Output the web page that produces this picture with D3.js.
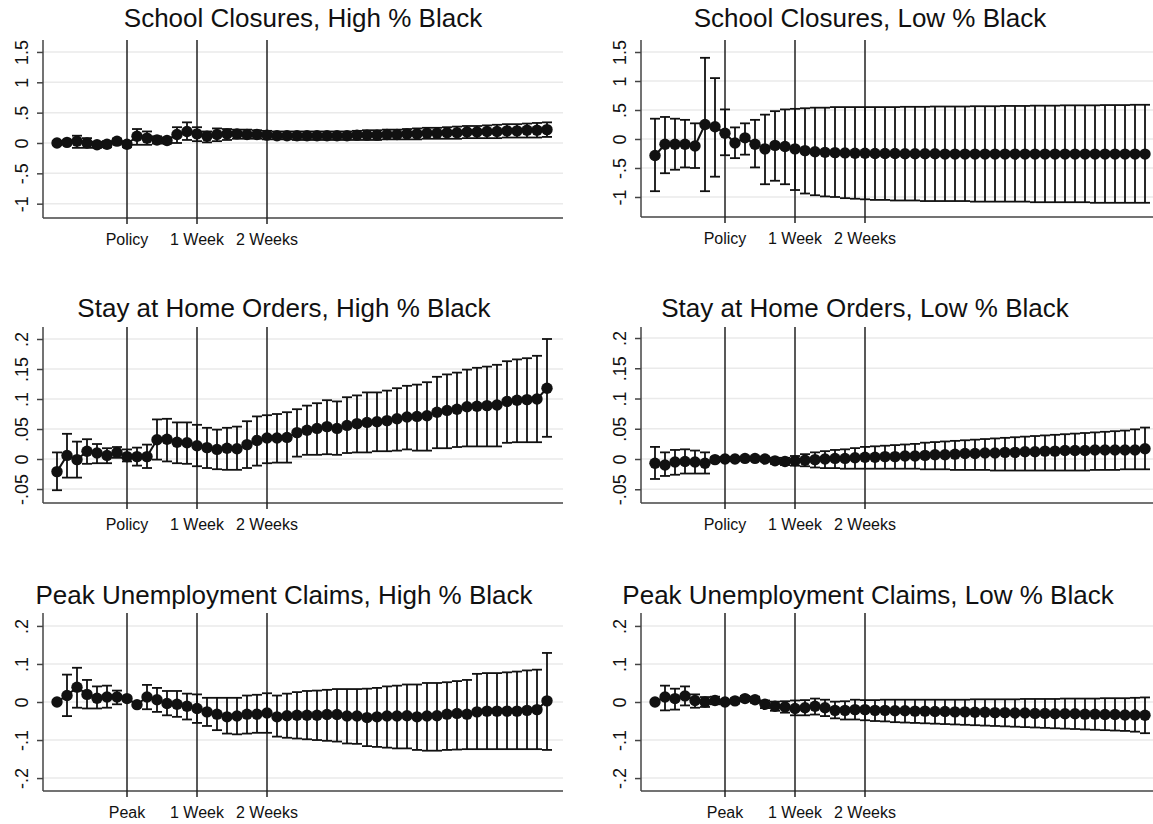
<!DOCTYPE html>
<html>
<head>
<meta charset="utf-8">
<script src="https://cdn.jsdelivr.net/npm/d3@7"></script>
<style>
  body { margin: 0; background: #fff; }
  svg { display: block; }
  text { font-family: "Liberation Sans", Arial, sans-serif; fill: #111; }
</style>
</head>
<body>
<svg id="chart" width="1153" height="824"></svg>
<script>
// Days relative to the event (policy start or claims peak)
const days = [-7,-6,-5,-4,-3,-2,-1,0,1,2,3,4,5,6,7,8,9,10,11,12,13,14,15,16,17,18,19,20,21,22,23,24,25,26,27,28,29,30,31,32,33,34,35,36,37,38,39,40,41,42];

// Marked event days on the x axis
const eventDays = [0, 7, 14];
const policyLabels = ["Policy", "1 Week", "2 Weeks"];
const peakLabels = ["Peak", "1 Week", "2 Weeks"];

// Y axis ticks
const schoolTicks = [-1, -0.5, 0, 0.5, 1, 1.5];
const schoolTickLabels = ["-1", "-.5", "0", ".5", "1", "1.5"];
const stayTicks = [-0.05, 0, 0.05, 0.1, 0.15, 0.2];
const stayTickLabels = ["-.05", "0", ".05", ".1", ".15", ".2"];
const claimsTicks = [-0.2, -0.1, 0, 0.1, 0.2];
const claimsTickLabels = ["-.2", "-.1", "0", ".1", ".2"];

// School closures, high % Black
const schoolHighEst = [0,0.01,0.03,0,-0.03,-0.02,0.03,-0.02,0.11,0.08,0.05,0.04,0.14,0.19,0.15,0.11,0.14,0.15,0.15,0.14,0.14,0.13,0.12,0.12,0.12,0.12,0.12,0.12,0.12,0.12,0.13,0.13,0.13,0.14,0.14,0.15,0.15,0.16,0.16,0.17,0.17,0.18,0.18,0.19,0.19,0.2,0.2,0.21,0.21,0.22];
const schoolHighLo = [-0.03,-0.02,-0.08,-0.08,-0.08,-0.07,-0.01,-0.07,-0.03,-0.03,-0.01,-0.01,0,0.05,0.03,0.01,0.03,0.05,0.07,0.07,0.07,0.06,0.06,0.06,0.05,0.05,0.05,0.05,0.05,0.05,0.05,0.05,0.05,0.06,0.06,0.06,0.06,0.07,0.07,0.07,0.07,0.08,0.08,0.08,0.08,0.09,0.09,0.09,0.09,0.1];
const schoolHighHi = [0.03,0.04,0.12,0.08,0.02,0.03,0.07,0.03,0.23,0.19,0.11,0.09,0.26,0.34,0.26,0.19,0.24,0.23,0.22,0.22,0.21,0.2,0.19,0.19,0.19,0.19,0.19,0.19,0.19,0.19,0.2,0.21,0.21,0.22,0.22,0.23,0.24,0.25,0.25,0.26,0.27,0.28,0.28,0.29,0.3,0.31,0.31,0.32,0.33,0.34];

// School closures, low % Black
const schoolLowEst = [-0.285,-0.09,-0.09,-0.09,-0.12,0.25,0.21,0.1,-0.07,0.02,-0.09,-0.17,-0.11,-0.13,-0.17,-0.2,-0.22,-0.23,-0.235,-0.24,-0.245,-0.245,-0.25,-0.25,-0.25,-0.255,-0.255,-0.255,-0.255,-0.26,-0.26,-0.26,-0.26,-0.26,-0.26,-0.26,-0.26,-0.26,-0.26,-0.26,-0.26,-0.26,-0.26,-0.26,-0.26,-0.26,-0.26,-0.26,-0.26,-0.26];
const schoolLowLo = [-0.9,-0.59,-0.53,-0.49,-0.5,-0.9,-0.65,-0.28,-0.33,-0.27,-0.49,-0.78,-0.72,-0.78,-0.88,-0.94,-0.97,-0.99,-1.0,-1.02,-1.03,-1.04,-1.05,-1.05,-1.06,-1.06,-1.06,-1.07,-1.07,-1.07,-1.07,-1.07,-1.08,-1.08,-1.08,-1.08,-1.08,-1.08,-1.09,-1.09,-1.09,-1.09,-1.09,-1.09,-1.1,-1.1,-1.1,-1.1,-1.1,-1.1];
const schoolLowHi = [0.35,0.38,0.35,0.33,0.27,1.4,1.05,0.51,0.2,0.27,0.33,0.42,0.48,0.51,0.52,0.53,0.54,0.54,0.55,0.55,0.55,0.55,0.55,0.55,0.55,0.555,0.555,0.555,0.56,0.56,0.56,0.56,0.565,0.565,0.565,0.57,0.57,0.57,0.575,0.575,0.575,0.58,0.58,0.58,0.58,0.585,0.585,0.585,0.59,0.59];

// Stay at home orders, high % Black
const stayHighEst = [-0.021,0.006,-0.001,0.013,0.01,0.006,0.011,0.004,0.004,0.004,0.032,0.033,0.028,0.027,0.022,0.019,0.016,0.018,0.017,0.024,0.031,0.035,0.035,0.036,0.044,0.048,0.051,0.054,0.051,0.056,0.059,0.061,0.062,0.064,0.067,0.07,0.071,0.072,0.078,0.081,0.083,0.087,0.088,0.089,0.09,0.096,0.098,0.099,0.1,0.118];
const stayHighLo = [-0.052,-0.031,-0.031,-0.008,-0.007,-0.007,0.002,-0.004,-0.011,-0.015,-0.001,-0.004,-0.007,-0.008,-0.012,-0.015,-0.017,-0.018,-0.018,-0.015,-0.011,-0.007,-0.006,-0.006,0.004,0.007,0.007,0.008,0.007,0.01,0.011,0.011,0.013,0.013,0.014,0.016,0.014,0.014,0.018,0.018,0.02,0.021,0.021,0.021,0.021,0.027,0.028,0.028,0.028,0.037];
const stayHighHi = [0.011,0.042,0.029,0.033,0.025,0.018,0.02,0.016,0.019,0.024,0.066,0.067,0.061,0.061,0.057,0.052,0.049,0.052,0.054,0.063,0.071,0.073,0.075,0.078,0.083,0.089,0.093,0.098,0.096,0.103,0.106,0.111,0.111,0.114,0.118,0.122,0.124,0.128,0.137,0.141,0.144,0.149,0.152,0.154,0.157,0.163,0.166,0.168,0.172,0.2];

// Stay at home orders, low % Black
const stayLowEst = [-0.007,-0.01,-0.005,-0.004,-0.005,-0.007,-0.001,0,0,0.001,0.001,0,-0.003,-0.004,-0.003,-0.002,-0.001,0,0.001,0.001,0.002,0.003,0.003,0.004,0.004,0.005,0.005,0.006,0.007,0.007,0.008,0.009,0.009,0.01,0.01,0.011,0.011,0.012,0.012,0.013,0.013,0.014,0.014,0.014,0.015,0.015,0.015,0.015,0.015,0.017];
const stayLowLo = [-0.033,-0.028,-0.026,-0.024,-0.024,-0.024,-0.005,-0.003,-0.003,-0.002,-0.002,-0.004,-0.008,-0.01,-0.011,-0.012,-0.014,-0.015,-0.015,-0.016,-0.016,-0.016,-0.016,-0.016,-0.016,-0.016,-0.016,-0.017,-0.017,-0.017,-0.018,-0.018,-0.018,-0.018,-0.019,-0.019,-0.019,-0.019,-0.019,-0.019,-0.019,-0.019,-0.019,-0.019,-0.018,-0.018,-0.018,-0.017,-0.017,-0.017];
const stayLowHi = [0.02,0.011,0.015,0.016,0.014,0.011,0.003,0.003,0.003,0.004,0.004,0.004,0.002,0.002,0.005,0.008,0.011,0.013,0.015,0.016,0.018,0.02,0.021,0.022,0.023,0.024,0.025,0.027,0.028,0.029,0.03,0.031,0.032,0.033,0.034,0.035,0.036,0.037,0.038,0.039,0.04,0.041,0.042,0.043,0.044,0.045,0.046,0.047,0.049,0.052];

// Peak unemployment claims, high % Black
const claimsHighEst = [0,0.017,0.039,0.02,0.01,0.013,0.013,0.009,-0.007,0.013,0.006,-0.004,-0.006,-0.011,-0.017,-0.026,-0.032,-0.039,-0.037,-0.032,-0.032,-0.029,-0.039,-0.036,-0.035,-0.035,-0.035,-0.033,-0.033,-0.037,-0.037,-0.041,-0.039,-0.037,-0.037,-0.036,-0.039,-0.037,-0.036,-0.032,-0.03,-0.032,-0.026,-0.024,-0.024,-0.024,-0.024,-0.022,-0.02,0.003];
const claimsHighLo = [-0.004,-0.037,-0.015,-0.017,-0.017,-0.015,-0.006,0.004,-0.011,-0.019,-0.026,-0.035,-0.039,-0.046,-0.055,-0.063,-0.074,-0.083,-0.085,-0.083,-0.081,-0.081,-0.091,-0.094,-0.096,-0.098,-0.1,-0.102,-0.104,-0.109,-0.11,-0.116,-0.118,-0.12,-0.122,-0.122,-0.126,-0.128,-0.128,-0.126,-0.125,-0.124,-0.124,-0.124,-0.124,-0.124,-0.124,-0.124,-0.124,-0.126];
const claimsHighHi = [0.004,0.072,0.09,0.058,0.041,0.043,0.03,0.014,-0.003,0.045,0.037,0.029,0.029,0.022,0.02,0.011,0.011,0.011,0.011,0.017,0.019,0.023,0.017,0.022,0.026,0.029,0.03,0.032,0.034,0.034,0.034,0.035,0.037,0.041,0.043,0.046,0.046,0.05,0.05,0.052,0.055,0.058,0.074,0.076,0.076,0.078,0.08,0.083,0.085,0.129];

// Peak unemployment claims, low % Black
const claimsLowEst = [0,0.013,0.009,0.016,0.004,0,0.004,0,0.003,0.009,0.006,-0.006,-0.011,-0.013,-0.017,-0.015,-0.011,-0.015,-0.022,-0.022,-0.02,-0.02,-0.022,-0.022,-0.023,-0.023,-0.024,-0.024,-0.025,-0.025,-0.026,-0.026,-0.027,-0.027,-0.028,-0.028,-0.029,-0.029,-0.03,-0.03,-0.031,-0.031,-0.031,-0.032,-0.032,-0.033,-0.033,-0.034,-0.034,-0.035];
const claimsLowLo = [-0.003,-0.022,-0.02,-0.009,-0.015,-0.013,-0.006,-0.004,-0.004,0.002,-0.002,-0.016,-0.023,-0.028,-0.035,-0.035,-0.033,-0.037,-0.043,-0.046,-0.046,-0.048,-0.05,-0.051,-0.053,-0.054,-0.055,-0.056,-0.057,-0.058,-0.059,-0.06,-0.061,-0.062,-0.063,-0.064,-0.065,-0.066,-0.067,-0.068,-0.069,-0.07,-0.071,-0.072,-0.073,-0.074,-0.075,-0.076,-0.078,-0.082];
const claimsLowHi = [0.003,0.043,0.035,0.041,0.02,0.013,0.014,0.004,0.01,0.016,0.014,0.004,0.001,0.002,0.004,0.005,0.009,0.006,0.001,0.002,0.006,0.005,0.005,0.006,0.006,0.006,0.006,0.006,0.006,0.006,0.006,0.006,0.007,0.007,0.007,0.007,0.007,0.008,0.008,0.008,0.008,0.009,0.009,0.009,0.009,0.01,0.01,0.01,0.011,0.012];

const panels = [
  { title: "School Closures, High % Black", est: schoolHighEst, lo: schoolHighLo, hi: schoolHighHi,
    ticks: schoolTicks, tickLabels: schoolTickLabels, xLabels: policyLabels,
    left: 43, top: 40, bottom: 218, yDomain: [-1.236, 1.697], titleX: 303, titleY: 27 },
  { title: "School Closures, Low % Black", est: schoolLowEst, lo: schoolLowLo, hi: schoolLowHi,
    ticks: schoolTicks, tickLabels: schoolTickLabels, xLabels: policyLabels,
    left: 641, top: 40, bottom: 217, yDomain: [-1.345, 1.707], titleX: 870, titleY: 27 },
  { title: "Stay at Home Orders, High % Black", est: stayHighEst, lo: stayHighLo, hi: stayHighHi,
    ticks: stayTicks, tickLabels: stayTickLabels, xLabels: policyLabels,
    left: 43, top: 327, bottom: 503, yDomain: [-0.0733, 0.22], titleX: 284, titleY: 317 },
  { title: "Stay at Home Orders, Low % Black", est: stayLowEst, lo: stayLowLo, hi: stayLowHi,
    ticks: stayTicks, tickLabels: stayTickLabels, xLabels: policyLabels,
    left: 641, top: 327, bottom: 503, yDomain: [-0.0727, 0.2182], titleX: 865, titleY: 317 },
  { title: "Peak Unemployment Claims, High % Black", est: claimsHighEst, lo: claimsHighLo, hi: claimsHighHi,
    ticks: claimsTicks, tickLabels: claimsTickLabels, xLabels: peakLabels,
    left: 43, top: 613, bottom: 791, yDomain: [-0.234, 0.234], titleX: 284, titleY: 604 },
  { title: "Peak Unemployment Claims, Low % Black", est: claimsLowEst, lo: claimsLowLo, hi: claimsLowHi,
    ticks: claimsTicks, tickLabels: claimsTickLabels, xLabels: peakLabels,
    left: 641, top: 613, bottom: 791, yDomain: [-0.234, 0.234], titleX: 868, titleY: 604 }
];

const plotWidth = 520;
const xDomain = [-8.4, 43.6];
const svg = d3.select("#chart");

panels.forEach(p => {
  const g = svg.append("g");
  const x = d3.scaleLinear().domain(xDomain).range([p.left, p.left + plotWidth]);
  const y = d3.scaleLinear().domain(p.yDomain).range([p.bottom, p.top]);

  // horizontal gridlines
  g.append("g").selectAll("line").data(p.ticks).join("line")
    .attr("x1", p.left).attr("x2", p.left + plotWidth)
    .attr("y1", d => y(d)).attr("y2", d => y(d))
    .attr("stroke", "#eaeaea").attr("stroke-width", 1.5);

  // y axis with rotated labels
  const yAxis = d3.axisLeft(y).tickValues(p.ticks).tickSize(6)
    .tickFormat((d, i) => p.tickLabels[i]);
  const ya = g.append("g").attr("transform", `translate(${p.left},0)`).call(yAxis);
  ya.select(".domain").attr("stroke", "#444").attr("stroke-width", 1.5)
    .attr("d", `M0,${p.top}V${p.bottom}`);
  ya.selectAll(".tick line").attr("stroke", "#444").attr("stroke-width", 1.5);
  ya.selectAll(".tick text")
    .attr("x", 0).attr("dy", null)
    .attr("transform", "translate(-15,0) rotate(-90)")
    .attr("text-anchor", "middle")
    .style("font-size", "18px").style("font-family", "'Liberation Sans', Arial, sans-serif")
    .attr("fill", "#111");

  // x axis baseline
  g.append("line")
    .attr("x1", p.left).attr("x2", p.left + plotWidth)
    .attr("y1", p.bottom).attr("y2", p.bottom)
    .attr("stroke", "#444").attr("stroke-width", 1.5);

  // event reference lines, extended below the axis as ticks
  g.append("g").selectAll("line").data(eventDays).join("line")
    .attr("x1", d => x(d)).attr("x2", d => x(d))
    .attr("y1", p.top).attr("y2", p.bottom + 6)
    .attr("stroke", "#222").attr("stroke-width", 1.5);

  g.append("g").selectAll("text").data(eventDays).join("text")
    .attr("x", d => x(d)).attr("y", p.bottom + 27)
    .attr("text-anchor", "middle")
    .style("font-size", "16px")
    .text((d, i) => p.xLabels[i]);

  // confidence intervals with caps
  const capHalf = 5;
  const ci = g.append("g").attr("stroke", "#111").attr("stroke-width", 1.8);
  days.forEach((d, i) => {
    const cx = x(d);
    ci.append("line").attr("x1", cx).attr("x2", cx).attr("y1", y(p.lo[i])).attr("y2", y(p.hi[i]));
    ci.append("line").attr("x1", cx - capHalf).attr("x2", cx + capHalf).attr("y1", y(p.lo[i])).attr("y2", y(p.lo[i]));
    ci.append("line").attr("x1", cx - capHalf).attr("x2", cx + capHalf).attr("y1", y(p.hi[i])).attr("y2", y(p.hi[i]));
  });

  // connected estimates
  const line = d3.line().x((d, i) => x(days[i])).y(d => y(d));
  g.append("path").datum(p.est).attr("d", line)
    .attr("fill", "none").attr("stroke", "#111").attr("stroke-width", 2);

  g.append("g").selectAll("circle").data(p.est).join("circle")
    .attr("cx", (d, i) => x(days[i])).attr("cy", d => y(d)).attr("r", 5.7)
    .attr("fill", "#111");

  // panel title
  g.append("text").attr("x", p.titleX).attr("y", p.titleY)
    .attr("text-anchor", "middle").style("font-size", "26px")
    .text(p.title);
});
</script>
</body>
</html>
